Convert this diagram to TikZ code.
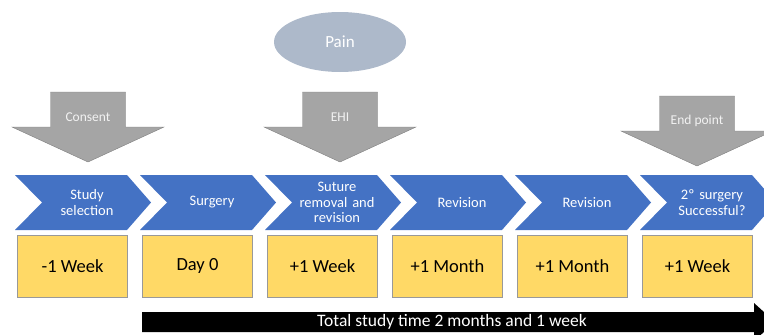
\documentclass[tikz,border=0pt]{standalone}
\usepackage{fontspec}
\setmainfont{Carlito}
\usetikzlibrary{shapes,arrows.meta}

\definecolor{stepblue}{HTML}{4472C4}
\definecolor{timeyellow}{HTML}{FFD966}
\definecolor{markgray}{HTML}{A5A5A5}
\definecolor{markedge}{HTML}{7F7F7F}
\definecolor{painblue}{HTML}{ADB9CA}

\begin{document}
\begin{tikzpicture}[x=1pt,y=-1pt,
        chevron/.style = {fill=stepblue},
        steptext/.style = {text=white, font=\fontsize{14.5}{15.5}\selectfont, text width=90pt, align=center},
        timebox/.style = {draw=markedge!80, fill=timeyellow, minimum width=110pt, minimum height=62pt, font=\fontsize{18.5}{20}\selectfont},
        marker/.style = {draw=markedge, fill=markgray, line join=miter},
        marktext/.style = {text=white!95!black, font=\fontsize{13.5}{15}\selectfont}
    ]
    \useasboundingbox (0,0) rectangle (764,335);
    \clip (0,0) rectangle (764,335);

    % pain
    \node(pain)[ellipse, fill=painblue, minimum width=132pt, minimum height=60pt, text=white, font=\fontsize{17}{19}\selectfont] at (340,42) {Pain};

    % down arrows
    \draw[marker] (50.5,92) -- (125.5,92) -- (125.5,127) -- (164,127) -- (88,162) -- (12,127) -- (50.5,127) -- cycle;
    \node(consent)[marktext] at (88,117) {Consent};
    \draw[marker] (302.5,92) -- (377.5,92) -- (377.5,127) -- (416,127) -- (340,162) -- (264,127) -- (302.5,127) -- cycle;
    \node(ehi)[marktext] at (340,117) {EHI};
    \draw[marker] (659.5,96) -- (734.5,96) -- (734.5,131) -- (773,131) -- (697,166) -- (621,131) -- (659.5,131) -- cycle;
    \node(endpoint)[marktext] at (697,121) {End point};

    % steps
    \foreach \i/\txt in {0/{Study\\selection}, 1/Surgery, 2/{Suture\\removal and\\revision}, 3/Revision, 4/Revision, 5/{2º surgery\\Successful?}} {
        \pgfmathsetmacro{\xa}{15+125*\i}
        \fill[chevron] (\xa,175) -- ++(112,0) -- ++(24,27.5) -- ++(-24,27.5) -- ++(-112,0) -- ++(27,-27.5) -- cycle;
        \node(step\i)[steptext] at (\xa+72,202.5) {\txt};
    }

    % times
    \foreach \i/\txt in {0/-1 Week, 1/Day 0, 2/+1 Week, 3/+1 Month, 4/+1 Month, 5/+1 Week} {
        \node(time\i)[timebox] at (72.5+125*\i,266) {\txt};
    }

    % total time
    \fill[black] (142,312) -- (754,312) -- (754,303) -- (775,322) -- (754,341) -- (754,332) -- (142,332) -- cycle;
    \node(total)[text=white, font=\fontsize{17.5}{19}\selectfont] at (452,322) {Total study time 2 months and 1 week};
\end{tikzpicture}
\end{document}
